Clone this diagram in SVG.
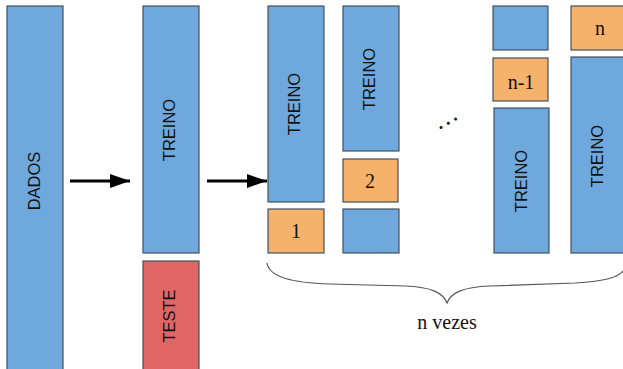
<svg xmlns="http://www.w3.org/2000/svg" width="623" height="369" viewBox="0 0 623 369">
<defs>
<style>
.b{fill:#6fa8dc;stroke:#44505e;stroke-width:1.2}
.o{fill:#f6b26b;stroke:#44505e;stroke-width:1.2}
.r{fill:#e06666;stroke:#44505e;stroke-width:1.2}
.s{font-family:"Liberation Sans",Arial,sans-serif;font-size:16.5px;fill:#111;text-anchor:middle}
.n{font-family:"Liberation Serif","Times New Roman",serif;font-size:20px;fill:#111;text-anchor:middle}
.arr{stroke:#000;stroke-width:3;fill:none}
</style>
<marker id="ah" markerWidth="20" markerHeight="14" refX="20" refY="7" orient="auto" markerUnits="userSpaceOnUse">
<path d="M0,0 L20,7 L0,14 Z" fill="#000"/>
</marker>
</defs>
<rect width="623" height="369" fill="#fff"/>
<g id="dados"><rect class="b" x="7" y="6" width="56" height="370"/><text class="s" transform="translate(40,181) rotate(-90)">DADOS</text></g>
<g id="treino0"><rect class="b" x="143" y="6" width="56" height="247"/><text class="s" transform="translate(175,130) rotate(-90)">TREINO</text></g>
<g id="teste"><rect class="r" x="143" y="261" width="56" height="115"/><text class="s" transform="translate(175,316) rotate(-90)">TESTE</text></g>
<g id="colA">
<rect class="b" x="268" y="6" width="56" height="196"/><text class="s" transform="translate(300,104) rotate(-90)">TREINO</text>
<rect class="o" x="268" y="209" width="56" height="44"/><text class="n" x="296" y="238">1</text>
</g>
<g id="colB">
<rect class="b" x="343" y="6" width="56" height="145"/><text class="s" transform="translate(375,79) rotate(-90)">TREINO</text>
<rect class="o" x="343" y="159" width="55" height="43"/><text class="n" x="370" y="188">2</text>
<rect class="b" x="343" y="209" width="56" height="44"/>
</g>
<g id="dots"><text class="n" style="font-size:25px" transform="translate(448,123) rotate(-30)" y="1.5">…</text></g>
<g id="colC">
<rect class="b" x="493" y="6" width="55" height="44"/>
<rect class="o" x="493" y="58" width="55" height="43"/><text class="n" x="521" y="89">n-1</text>
<rect class="b" x="494" y="108" width="55" height="145"/><text class="s" transform="translate(527,181) rotate(-90)">TREINO</text>
</g>
<g id="colD">
<rect class="o" x="571" y="6" width="57" height="44"/><text class="n" x="600" y="35">n</text>
<rect class="b" x="571" y="57" width="57" height="196"/><text class="s" transform="translate(603,156) rotate(-90)">TREINO</text>
</g>
<g id="connectors">
<line class="arr" x1="70" y1="181" x2="130" y2="181" marker-end="url(#ah)"/>
<line class="arr" x1="207" y1="181" x2="267" y2="181" marker-end="url(#ah)"/>
<path d="M267,263 C269,276 290,283 330,284 L405,286 C432,287 443,293 447,303 C451,293 462,287 490,286 L575,283 C605,281 618,278 624,270" fill="none" stroke="#555" stroke-width="1.2"/>
</g>
<g id="label"><text class="n" x="447" y="329">n vezes</text></g>
</svg>
